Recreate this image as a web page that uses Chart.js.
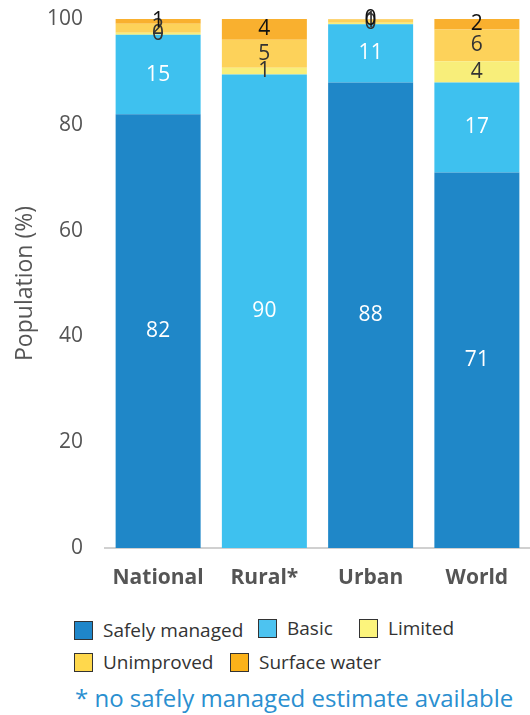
<!DOCTYPE html>
<html>
<head>
<meta charset="utf-8">
<script src="https://cdn.jsdelivr.net/npm/chart.js@4/dist/chart.umd.min.js"></script>
<style>
  html, body { margin: 0; padding: 0; background: #fff; }
  #wrap { position: relative; width: 530px; height: 715px; font-family: "Open Sans", sans-serif; }
  #chart { position: absolute; left: 0; top: 0; }
  .legend-item { position: absolute; display: flex; align-items: center; font-size: 19px; color: #333; }
  .legend-item span.box { width: 19px; height: 19px; border: 1px solid #333; margin-right: 10px; box-sizing: border-box; }
  #note { position: absolute; left: 75px; top: 681px; font-size: 24px; color: #2a8fd0; white-space: nowrap; }
</style>
</head>
<body>
<div id="wrap">
  <canvas id="chart" width="530" height="600"></canvas>
  <div id="legend"></div>
  <div id="note">* no safely managed estimate available</div>
</div>
<script>
// Water service ladder (%)
const categories = ["National", "Rural*", "Urban", "World"];
const safelyManaged = [82, null, 88, 71];
const basic = [15, 89.5, 11, 17];
const limited = [0.4, 1.3, 0.3, 4];
const unimproved = [1.7, 5.3, 0.6, 6];
const surfaceWater = [0.9, 3.9, 0.1, 2];
const yTicks = [0, 20, 40, 60, 80, 100];

const seriesNames = ["Safely managed", "Basic", "Limited", "Unimproved", "Surface water"];
const barColors = ["#1f87c8", "#3ec1ef", "#f8ee7a", "#fdd25a", "#f9b02f"];
const legendColors = ["#1f86c9", "#4dc3f0", "#fcf47c", "#ffd84c", "#fbb21a"];
const labelColors = ["#ffffff", "#ffffff", "#333333", "#333333", "#111111"];
const seriesData = [safelyManaged, basic, limited, unimproved, surfaceWater];

// legend positions (custom HTML legend)
const legendPos = [[74, 617], [258, 615], [359, 615], [74, 649], [230, 649]];
document.getElementById("legend").innerHTML = seriesNames.map((n, i) =>
  `<div class="legend-item" style="left:${legendPos[i][0]}px;top:${legendPos[i][1]}px"><span class="box" style="background:${legendColors[i]}"></span>${n}</div>`
).join("");

// draws rounded values in the middle of each segment
const segmentLabels = {
  id: "segmentLabels",
  afterDatasetsDraw(chart) {
    const ctx = chart.ctx;
    ctx.save();
    ctx.font = "21px 'Open Sans', sans-serif";
    ctx.textAlign = "center";
    ctx.textBaseline = "middle";
    chart.data.datasets.forEach((ds, di) => {
      chart.getDatasetMeta(di).data.forEach((bar, i) => {
        const v = ds.data[i];
        if (v == null) return;
        const p = bar.getProps(["x", "y", "base"], true);
        ctx.fillStyle = labelColors[di];
        ctx.fillText(String(Math.round(v)), p.x, (p.y + p.base) / 2);
      });
    });
    ctx.restore();
  }
};

new Chart(document.getElementById("chart"), {
  type: "bar",
  data: {
    labels: categories,
    datasets: seriesNames.map((name, i) => ({
      label: name,
      data: seriesData[i],
      backgroundColor: barColors[i],
      borderWidth: 0,
      categoryPercentage: 0.8,
      barPercentage: 1.0,
    })),
  },
  options: {
    responsive: false,
    animation: false,
    layout: { padding: { top: 19, right: 0, left: 0, bottom: 0 } },
    plugins: { legend: { display: false }, tooltip: { enabled: false } },
    scales: {
      x: {
        stacked: true,
        grid: { display: false, drawTicks: false },
        border: { color: "#d0d0d0", width: 2 },
        ticks: { color: "#555", padding: 17, font: { family: "Open Sans", size: 21, weight: "bold" } },
        afterFit(scale) { scale.height = 52; scale.paddingLeft = 0; scale.paddingRight = 0; },
      },
      y: {
        stacked: true,
        min: 0,
        max: 100,
        afterBuildTicks(scale) { scale.ticks = yTicks.map((v) => ({ value: v })); },
        grid: { display: false, drawTicks: false },
        border: { display: false },
        ticks: { color: "#555", padding: 22, font: { family: "Open Sans", size: 21 } },
        title: { display: true, text: "Population (%)", color: "#555", font: { family: "Open Sans", size: 23 }, padding: { top: 12, bottom: 0 } },
        afterFit(scale) { scale.width = 105; scale.paddingTop = 0; scale.paddingBottom = 0; },
      },
    },
  },
  plugins: [segmentLabels],
});
</script>
</body>
</html>
